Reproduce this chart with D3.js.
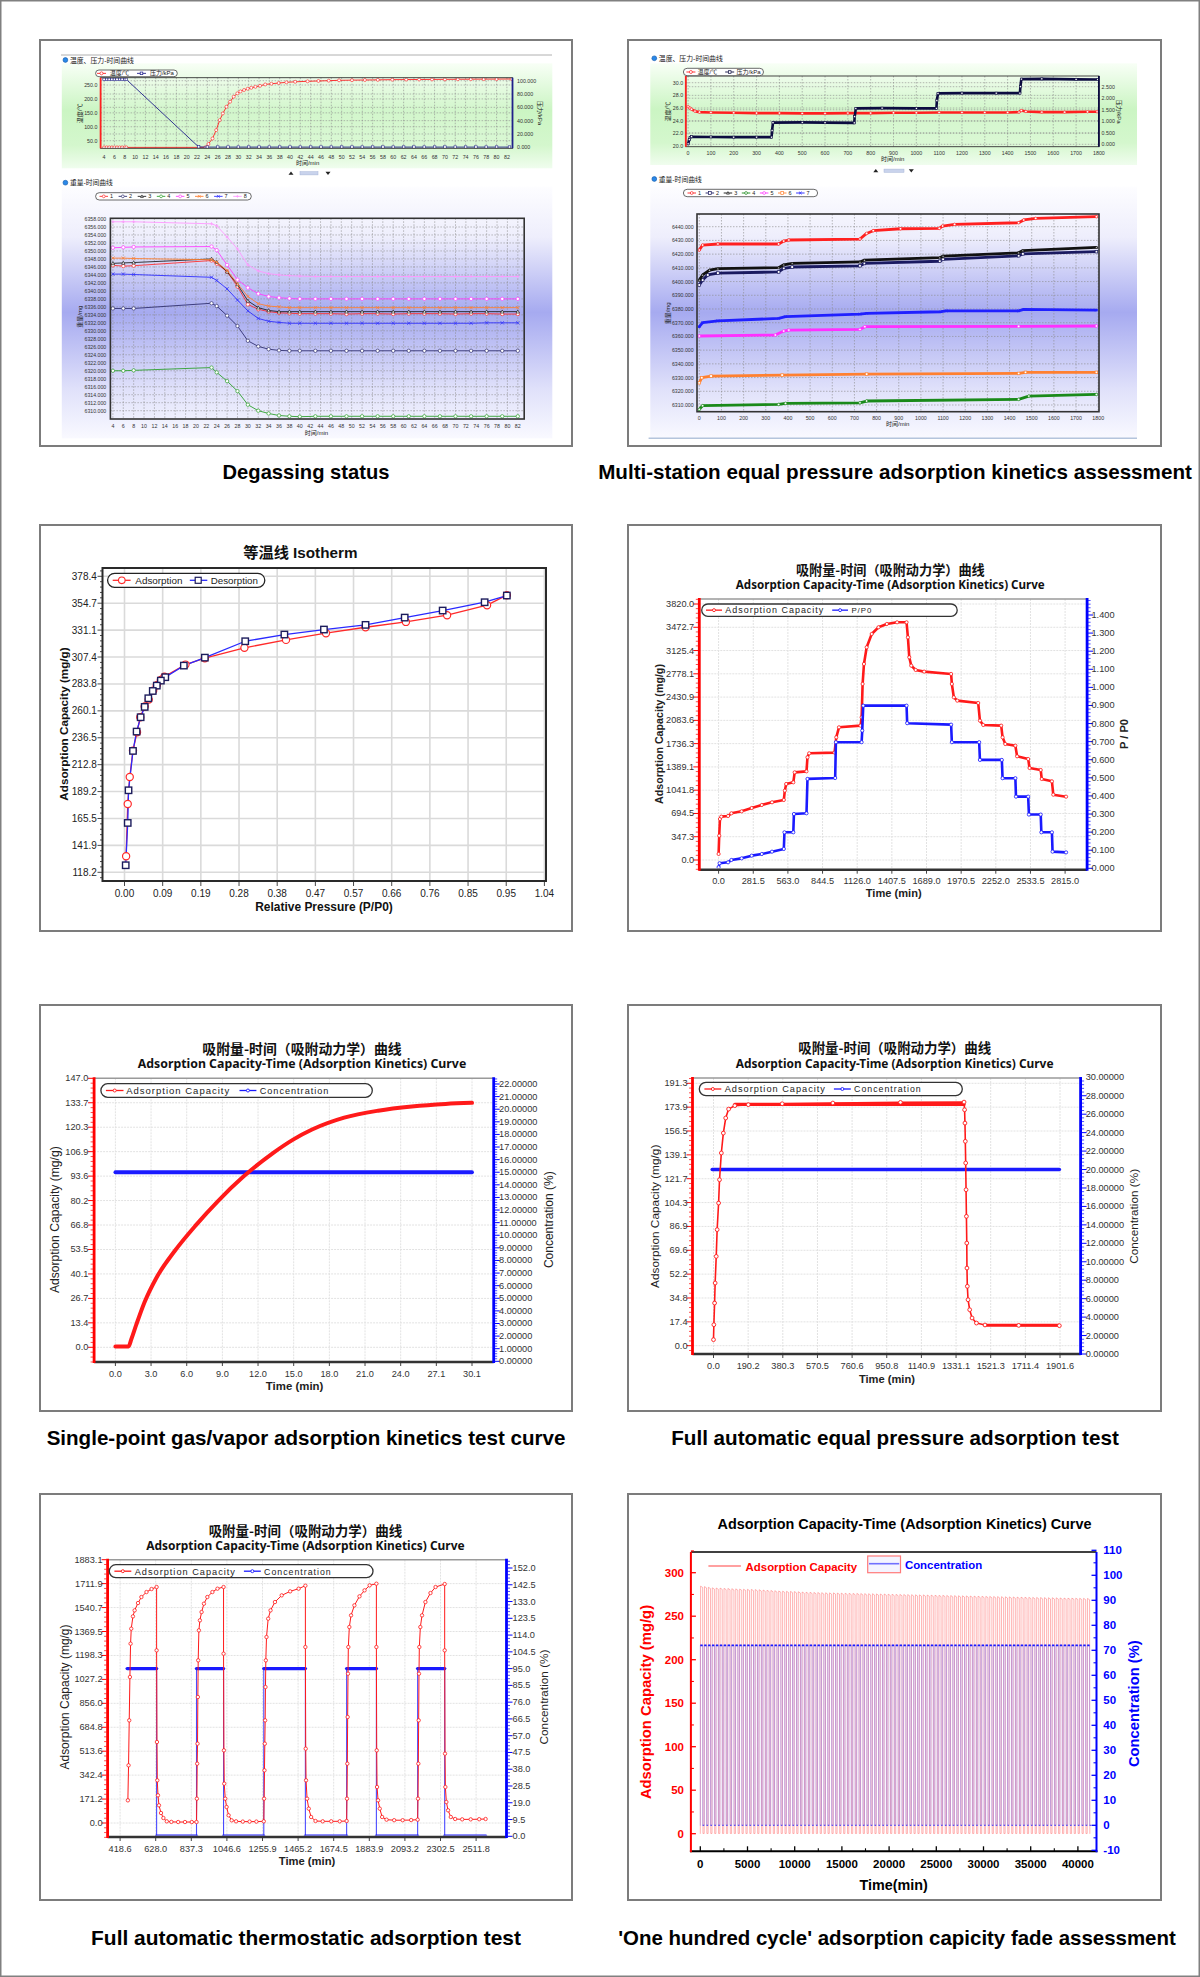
<!DOCTYPE html>
<html><head><meta charset="utf-8">
<script src="https://cdn.jsdelivr.net/npm/d3@7/dist/d3.min.js"></script>
<style>html,body{margin:0;padding:0;background:#fff;}svg{display:block;}</style>
</head><body>
<script>
// ======================= DATA =======================
const captions=["Degassing status","Multi-station equal pressure adsorption kinetics assessment","Single-point gas/vapor adsorption kinetics test curve","Full automatic equal pressure adsorption test","Full automatic thermostatic adsorption test","'One hundred cycle' adsorption capicity fade assessment"];

// ---- Panel 1: degassing ----
const degX=["4","6","8","10","12","14","16","18","20","22","24","26","28","30","32","34","36","38","40","42","44","46","48","50","52","54","56","58","60","62","64","66","68","70","72","74","76","78","80","82"];
const degTempTicks=["50.0","100.0","150.0","200.0","250.0"];
const degPresTicks=["0.000","20.000","40.000","60.000","80.000","100.000"];
const degWTicks=["6310.000","6312.000","6314.000","6316.000","6318.000","6320.000","6322.000","6324.000","6326.000","6328.000","6330.000","6332.000","6334.000","6336.000","6338.000","6340.000","6342.000","6344.000","6346.000","6348.000","6350.000","6352.000","6354.000","6356.000","6358.000"];
const degTempT=[4,4.5,5,5.5,6,6.5,7,7.5,8,8.3,23.6,24.2,25,25.7,26.4,27,27.7,28.4,29.1,29.8,30.4,31.1,31.8,32.5,33.3,34.2,35.2,36.4,37.8,39.3,41,43.4,45.5,47.5,49.5,52,54.5,57,59.8,62.5,65,67.5,70,72.5,75,77.5,80,82.9];
const degTempV=[26,26,26,26,26,26,26,26,26,26,26,38,58,88,124,148,172,190,208,220,227,232,236.5,240,243.5,247,252,254.5,257,259.6,261.5,263.2,264.5,265.5,266.8,267.5,268,268.5,269.2,269.5,269.8,270,270.3,270.6,270.9,271.1,271.3,271.6];
const degPresT=[4,4.5,5,5.5,6,6.5,7,7.5,8,8.3,22.3,24,26,28,30,32,34,36,38,40,42,44,46,48,50,52,54,56,58,60,62,64,66,68,70,72,74,76,78,80,82.5];
const degPresV=[102,102,102,102,102,102,102,102,102,102,0.6,0.3,0.3,0.3,0.3,0.3,0.3,0.3,0.3,0.3,0.3,0.3,0.3,0.3,0.3,0.3,0.3,0.3,0.3,0.3,0.3,0.3,0.3,0.3,0.3,0.3,0.3,0.3,0.3,0.3,0.3];
const degWT=[4,6,8,23,24,26,28,30,32,34,36,38,40,43,46,49,52,55,58,61,64,67,70,73,76,79,82];
const degW1=[6346.4,6346.2,6346.3,6347.6,6346.8,6344.8,6341.1,6336.6,6335.4,6334.8,6334.5,6334.4,6334.3,6334.3,6334.3,6334.2,6334.3,6334.3,6334.2,6334.3,6334.3,6334.3,6334.2,6334.3,6334.3,6334.2,6334.2];
const degW2=[6335.6,6335.6,6335.6,6336.9,6336.2,6333.8,6331.2,6327.5,6326.1,6325.4,6325.1,6325.0,6325.0,6325.0,6325.0,6325.0,6325.0,6325.0,6325.0,6325.0,6325.0,6325.0,6325.0,6325.0,6325.0,6325.0,6325.0];
const degW3=[6346.9,6347.0,6347.1,6348.0,6347.2,6344.8,6341.6,6337.5,6335.8,6335.1,6334.8,6334.8,6334.8,6334.8,6334.8,6334.8,6334.8,6334.8,6334.8,6334.8,6334.8,6334.8,6334.8,6334.8,6334.8,6334.8,6334.8];
const degW4=[6320.0,6320.0,6320.1,6320.8,6319.6,6317.4,6314.9,6311.5,6310.0,6309.3,6308.8,6308.6,6308.5,6308.6,6308.6,6308.6,6308.6,6308.6,6308.6,6308.6,6308.6,6308.6,6308.6,6308.6,6308.6,6308.6,6308.6];
const degW5=[6350.8,6350.9,6351.0,6351.1,6350.2,6346.5,6342.8,6340.8,6339.3,6338.6,6338.3,6338.1,6338.0,6338.0,6338.0,6338.0,6338.0,6338.0,6338.0,6338.0,6338.0,6338.0,6338.0,6338.0,6338.0,6338.0,6338.0];
const degW6=[6348.2,6348.2,6348.1,6347.8,6347.2,6345.1,6341.8,6338.6,6336.8,6336.2,6336.0,6335.8,6335.8,6335.8,6335.8,6335.8,6335.8,6335.8,6335.8,6335.8,6335.8,6335.8,6335.8,6335.8,6335.8,6335.8,6335.8];
const degW7=[6344.2,6344.2,6344.1,6343.4,6342.6,6340.5,6337.7,6335.0,6333.1,6332.4,6332.1,6331.9,6331.9,6331.9,6331.9,6331.9,6331.9,6331.9,6331.9,6331.9,6331.9,6331.9,6331.9,6331.9,6332.0,6332.0,6332.0];
const degW8=[6357.3,6357.3,6357.3,6356.8,6356.3,6353.5,6350.5,6346.5,6345.0,6344.3,6344.0,6343.8,6343.7,6343.6,6343.6,6343.6,6343.6,6343.6,6343.6,6343.6,6343.6,6343.6,6343.6,6343.6,6343.6,6343.6,6343.6];

// ---- Panel 2: multi-station ----
const msX=["0","100","200","300","400","500","600","700","800","900","1000","1100","1200","1300","1400","1500","1600","1700","1800"];
const msTempTicks=["20.0","22.0","24.0","26.0","28.0","30.0"];
const msPresTicks=["0.000","0.500","1.000","1.500","2.000","2.500"];
const msWTicks=["6310.000","6320.000","6330.000","6340.000","6350.000","6360.000","6370.000","6380.000","6390.000","6400.000","6410.000","6420.000","6430.000","6440.000"];
const msTemp=[[0,26.2],[8,26.0],[15,25.8],[30,25.5],[50,25.35],[100,25.3],[200,25.25],[300,25.2],[400,25.2],[500,25.15],[600,25.15],[700,25.2],[800,25.2],[900,25.25],[1000,25.25],[1100,25.3],[1200,25.3],[1300,25.3],[1400,25.3],[1450,25.35],[1460,25.6],[1480,25.45],[1550,25.35],[1650,25.35],[1750,25.4],[1792,25.4]];
const msPres=[[0,0.02],[5,0.2],[9,0.29],[15,0.33],[100,0.32],[200,0.31],[300,0.31],[366,0.31],[368,0.6],[372,0.94],[500,0.95],[600,0.94],[728,0.93],[730,1.2],[735,1.56],[850,1.57],[1000,1.56],[1088,1.56],[1090,1.9],[1095,2.21],[1200,2.22],[1350,2.22],[1454,2.22],[1456,2.5],[1460,2.83],[1550,2.84],[1700,2.82],[1795,2.81]];
const msW1=[[0,6423],[15,6426.6],[84,6427.4],[358,6427.4],[381,6429.5],[404,6430.3],[725,6431],[755,6435.1],[785,6437.1],[908,6438.5],[1083,6438.8],[1098,6440.5],[1152,6441.7],[1441,6442.9],[1464,6444.9],[1518,6446.1],[1792,6447.3]];
const msW2=[[0,6397.5],[15,6401.1],[38,6404.8],[84,6406.2],[358,6407],[381,6409.6],[419,6410.6],[725,6411.5],[745,6413.2],[1085,6414.8],[1100,6416.2],[1441,6418.8],[1460,6420.2],[1792,6421.8]];
const msW3=[[0,6401.1],[15,6404.8],[46,6408.4],[84,6409.4],[358,6410.1],[381,6412.2],[419,6413.3],[725,6414.3],[745,6415.6],[1085,6417.4],[1100,6418.6],[1441,6421],[1460,6422.6],[1792,6424.9]];
const msW4=[[0,6306.8],[15,6309.5],[358,6310.4],[389,6311.2],[725,6311.6],[755,6312.9],[1441,6314.1],[1487,6316.5],[1792,6317.7]];
const msW5=[[0,6360.3],[343,6361],[381,6363.9],[404,6364.6],[725,6365.1],[747,6367.1],[1441,6367.3],[1792,6367.6]];
const msW6=[[0,6326.2],[11,6329.9],[53,6331.1],[374,6331.8],[755,6332.5],[1441,6333],[1472,6333.8],[1792,6333.8]];
const msW7=[[0,6367.1],[15,6370],[84,6371.4],[358,6373.1],[389,6374.4],[725,6376.3],[755,6376.8],[1091,6378],[1114,6378.7],[1441,6378.7],[1464,6379.7],[1792,6379.2]];

// ---- Panel 3: isotherm ----
const isoX=["0.00","0.09","0.19","0.28","0.38","0.47","0.57","0.66","0.76","0.85","0.95","1.04"];
const isoY=["118.2","141.9","165.5","189.2","212.8","236.5","260.1","283.8","307.4","331.1","354.7","378.4"];
const isoAdsP=[0.004,0.008,0.013,0.021,0.031,0.039,0.050,0.060,0.071,0.080,0.090,0.099,0.151,0.199,0.297,0.400,0.499,0.597,0.697,0.799,0.898,0.947];
const isoAdsV=[132.3,178.3,202.0,225.2,241.3,254.5,263.9,270.0,277.9,282.6,287.3,290.2,300.8,306.4,315.5,322.5,328.4,333.6,338.3,344.2,353.0,361.8];
const isoDesP=[0.947,0.892,0.788,0.694,0.597,0.494,0.396,0.299,0.199,0.147,0.101,0.090,0.080,0.070,0.059,0.050,0.040,0.030,0.021,0.010,0.008,0.003];
const isoDesV=[361.5,355.6,348.3,342.1,335.7,331.6,327.2,321.3,306.9,299.9,289.7,286.7,282.3,277.6,271.2,263.6,254.5,241.9,224.9,190.3,161.6,124.4];

// ---- Panel 4: kinetics with P/P0 ----
const p4X=["0.0","281.5","563.0","844.5","1126.0","1407.5","1689.0","1970.5","2252.0","2533.5","2815.0"];
const p4L=["0.0","347.3","694.5","1041.8","1389.1","1736.3","2083.6","2430.9","2778.1","3125.4","3472.7","3820.0"];
const p4R=["0.000","0.100","0.200","0.300","0.400","0.500","0.600","0.700","0.800","0.900","1.000","1.100","1.200","1.300","1.400"];
const p4Ads=[[0,90],[5,363],[11,612],[22,647],[77,657],[104,697],[187,726],[269,776],[351,821],[434,861],[530,896],[538,1035],[549,1134],[607,1159],[618,1308],[714,1323],[722,1532],[736,1592],[942,1602],[956,1831],[978,1980],[1153,2005],[1162,2129],[1170,2627],[1181,2925],[1203,3174],[1244,3373],[1299,3473],[1367,3522],[1450,3547],[1527,3547],[1538,3323],[1549,3025],[1565,2900],[1601,2836],[1670,2811],[1889,2776],[1895,2627],[1911,2428],[1939,2378],[2109,2343],[2123,2080],[2150,2015],[2296,2005],[2307,1831],[2329,1731],[2411,1706],[2425,1547],[2515,1507],[2526,1373],[2617,1343],[2625,1209],[2708,1174],[2719,975],[2823,945]];
const p4PP0=[[0,0.006],[8,0.028],[77,0.033],[104,0.046],[187,0.055],[269,0.070],[351,0.079],[434,0.092],[530,0.107],[535,0.199],[607,0.199],[612,0.300],[714,0.304],[722,0.494],[947,0.499],[953,0.697],[1162,0.697],[1167,0.761],[1175,0.899],[1527,0.899],[1532,0.802],[1889,0.794],[1895,0.697],[2117,0.697],[2123,0.599],[2301,0.599],[2307,0.498],[2411,0.498],[2416,0.396],[2515,0.396],[2521,0.297],[2617,0.297],[2622,0.199],[2708,0.199],[2713,0.092],[2823,0.088]];

// ---- Panel 5: single point ----
const p5X=["0.0","3.0","6.0","9.0","12.0","15.0","18.0","21.0","24.0","27.1","30.1"];
const p5L=["0.0","13.4","26.7","40.1","53.5","66.8","80.2","93.6","106.9","120.3","133.7","147.0"];
const p5R=["0.00000","1.00000","2.00000","3.00000","4.00000","5.00000","6.00000","7.00000","8.00000","9.00000","10.00000","11.00000","12.00000","13.00000","14.00000","15.00000","16.00000","17.00000","18.00000","19.00000","20.00000","21.00000","22.00000"];
const p5Ads=[[0,0.5],[1.11,0.5],[1.35,4.5],[1.77,12.5],[2.45,24.5],[3.42,37.5],[4.99,52.5],[6.76,66.5],[8.70,80.2],[10.76,93.0],[13.27,106.0],[15.0,113.5],[16.6,119.0],[19.31,125.5],[22.17,129.3],[25.02,131.6],[27.87,133.0],[30.10,133.6]];
const p5Conc=[[0,15],[30.1,15]];

// ---- Panel 6: equal pressure ----
const p6X=["0.0","190.2","380.3","570.5","760.6","950.8","1140.9","1331.1","1521.3","1711.4","1901.6"];
const p6L=["0.0","17.4","34.8","52.2","69.6","86.9","104.3","121.7","139.1","156.5","173.9","191.3"];
const p6R=["0.00000","2.00000","4.00000","6.00000","8.00000","10.00000","12.00000","14.00000","16.00000","18.00000","20.00000","22.00000","24.00000","26.00000","28.00000","30.00000"];
const p6Ads=[[0,4.4],[2,15.3],[6,31.1],[9,45.7],[15,65.1],[20,84.6],[28,104],[33,121],[43,140.5],[54,155],[67,166],[83,172.5],[117,175],[191,175.7],[377,176.4],[655,176.9],[1026,177.4],[1375,177.6],[1378,172],[1380,162.3],[1382,149],[1384,133.2],[1386,113.7],[1388,94.3],[1390,74.8],[1391,56.6],[1393,43.3],[1397,33.5],[1406,26.2],[1419,20.2],[1443,16.5],[1490,15.1],[1675,14.8],[1898,14.6]];
const p6Conc=[[-7,20],[1898,20]];

// ---- Panel 7: thermostatic ----
const p7X=["418.6","628.0","837.3","1046.6","1255.9","1465.2","1674.5","1883.9","2093.2","2302.5","2511.8"];
const p7L=["0.0","171.2","342.4","513.6","684.8","856.0","1027.2","1198.3","1369.5","1540.7","1711.9","1883.1"];
const p7R=["0.0","9.5","19.0","28.5","38.0","47.5","57.0","66.5","76.0","85.5","95.0","104.5","114.0","123.5","133.0","142.5","152.0"];
const p7Ads=[[464.3,162.1],[468.3,412.4],[472.3,734.1],[476.3,1044],[480.2,1282.4],[484.2,1389.6],[494.1,1477.8],[504.1,1520.7],[523.9,1573.2],[543.8,1616.1],[573.7,1651.8],[603.5,1673.3],[633.3,1687.6],[633.3,1234.7],[635.3,579.2],[637.3,305.1],[641.3,197.8],[647.2,126.3],[659.1,71.5],[673.1,35.8],[693,11.9],[720,8],[760,7],[800,7],[840,7],[867.9,7.2],
[869.9,174],[871.9,424.3],[873.8,567.3],[875.8,901],[877.8,1163.2],[881.8,1377.7],[887.8,1449.2],[897.7,1508.8],[911.6,1568.4],[931.5,1616.1],[961.3,1651.8],[991.1,1675.7],[1026.9,1687.6],[1026.9,1210.9],[1028.9,519.6],[1030.9,281.3],[1036.8,174],[1044.8,114.4],[1056.7,54.8],[1074.6,19.1],[1100.5,11.9],[1140,10],[1180,10],[1220,10],[1263.5,11.9],
[1265.5,174],[1267.5,376.6],[1269.5,567.3],[1271.5,734.1],[1273.4,972.5],[1275.4,1163.2],[1279.4,1330],[1289.3,1461.2],[1303.2,1520.7],[1329.1,1580.3],[1368.8,1628],[1418.5,1656.6],[1468.2,1675.7],[1508,1697.1],[1508,1258.5],[1510,531.5],[1512,305.1],[1517.9,174],[1527.9,102.5],[1541.8,42.9],[1567.6,14.3],[1610,12],[1660,12],[1710,12],[1750.6,14.3],
[1752.6,174],[1754.6,424.3],[1756.6,758],[1758.6,1067.9],[1760.6,1258.5],[1766.5,1401.6],[1776.5,1485],[1796.3,1556.5],[1826.1,1620.9],[1855.9,1663.8],[1885.8,1699.5],[1925.5,1711.4],[1925.5,1258.5],[1927.5,519.6],[1929.5,257.4],[1935.4,162.1],[1945.4,102.5],[1959.3,42.9],[1985.2,23.8],[2030,20],[2080,20],[2130,21],[2168.1,23.8],
[2170.1,174],[2172.1,424.3],[2174.1,734.1],[2176,1067.9],[2178,1258.5],[2184,1401.6],[2193.9,1485],[2213.8,1580.3],[2243.6,1644.7],[2273.4,1687.6],[2327.1,1709],[2327.1,1234.7],[2329.1,495.8],[2331.1,257.4],[2337,150.2],[2347,90.6],[2362.9,42.9],[2388.7,28.6],[2430,26],[2480,26],[2530,27],[2567.6,28.6]];
const p7Conc=[[460.3,95],[633.3,95],[633.3,0],[867.9,0],[867.9,95],[1026.9,95],[1026.9,0],[1263.5,0],[1263.5,95],[1508,95],[1508,0],[1750.6,0],[1750.6,95],[1925.5,95],[1925.5,0],[2168.1,0],[2168.1,95],[2327.1,95],[2327.1,0],[2567.6,0]];

// ---- Panel 8: one hundred cycles ----
const p8X=["0","5000","10000","15000","20000","25000","30000","35000","40000"];
const p8L=["0","50","100","150","200","250","300"];
const p8R=["-10","0","10","20","30","40","50","60","70","80","90","100","110"];
const p8Start=[0,414,828,1242,1656,2070,2484,2898,3312,3726,4140,4554,4968,5382,5796,6210,6624,7038,7452,7866,8280,8694,9108,9522,9936,10350,10764,11178,11592,12006,12420,12834,13248,13662,14076,14490,14904,15318,15732,16146,16560,16974,17388,17802,18216,18630,19044,19458,19872,20286,20700,21114,21528,21942,22356,22770,23184,23598,24012,24426,24840,25254,25668,26082,26496,26910,27324,27738,28152,28566,28980,29394,29808,30222,30636,31050,31464,31878,32292,32706,33120,33534,33948,34362,34776,35190,35604,36018,36432,36846,37260,37674,38088,38502,38916,39330,39744,40158,40572,40986];
const p8Peak=[284.5,284.0,283.2,282.6,282.4,282.3,282.0,281.9,281.6,281.4,281.2,281.0,280.9,280.8,280.6,280.4,280.1,279.8,279.6,279.3,279.0,278.8,278.6,278.5,278.3,278.1,277.8,277.6,277.5,277.3,277.2,277.0,276.9,276.8,276.8,276.6,276.5,276.4,276.3,276.2,276.2,276.0,275.9,275.8,275.8,275.6,275.5,275.5,275.3,275.2,275.1,275.0,274.9,274.8,274.7,274.6,274.5,274.5,274.3,274.2,274.1,274.0,274.0,273.8,273.7,273.6,273.5,273.4,273.3,273.2,273.1,273.0,272.9,272.8,272.7,272.6,272.5,272.4,272.3,272.2,272.1,272.0,271.9,271.8,271.7,271.6,271.5,271.4,271.3,271.2,271.2,271.1,271.0,270.9,270.8,270.8,270.7,270.6,270.5,270.4];
const p8Low=0.3;       // adsorption capacity between cycles (mg/g)
const p8Conc=72;       // concentration plateau (%)
const p8Phase=[0,30,250,280]; // minutes after cycle start: rise start, rise end, desorb start, desorb end

// ======================= DRAWING =======================
const svg=d3.select("body").append("svg").attr("width",1200).attr("height",1977)
  .attr("font-family","'Liberation Sans',Arial,'Noto Sans CJK SC',sans-serif");
const defs=svg.append("defs");
function grad(id,stops){const lg=defs.append("linearGradient").attr("id",id).attr("x1",0).attr("y1",0).attr("x2",0).attr("y2",1);stops.forEach(s=>lg.append("stop").attr("offset",s[0]).attr("stop-color",s[1]));}
grad("gGreen",[[0,"#f8fff6"],[0.45,"#cbf5c3"],[0.78,"#d4f7cd"],[1,"#f0fdee"]]);
grad("gBlue",[[0,"#fdfdff"],[0.2,"#eeeefc"],[0.5,"#a6aaf0"],[0.8,"#dfe0fa"],[1,"#f9f9ff"]]);
let clipN=0;
function clip(g,x0,y0,x1,y1){const id="cl"+(clipN++);defs.append("clipPath").attr("id",id).append("rect").attr("x",x0).attr("y",y0).attr("width",x1-x0).attr("height",y1-y0);return g.append("g").attr("clip-path",`url(#${id})`);}
function T(g,x,y,s,o){o=o||{};const t=g.append("text").attr("x",x).attr("y",y).text(s).attr("font-size",o.fs||10).attr("fill",o.fill||"#000").attr("text-anchor",o.a||"middle").attr("dominant-baseline","central");
 if(o.fw)t.attr("font-weight",o.fw);if(o.ls!=null)t.attr("letter-spacing",o.ls);if(o.ff)t.attr("font-family",o.ff);if(o.rot)t.attr("transform",`rotate(${o.rot},${x},${y})`);
 if(o.w){const Ln=t.node().getComputedTextLength();if(Ln>0)t.attr("font-size",((o.fs||10)*o.w/Ln).toFixed(2));}return t;}
function L(g,x1,y1,x2,y2,st,sw,da){const l=g.append("line").attr("x1",x1).attr("y1",y1).attr("x2",x2).attr("y2",y2).attr("stroke",st).attr("stroke-width",sw);if(da)l.attr("stroke-dasharray",da);return l;}
function tpos(labels,sc){const a=sc(+labels[0]),b=sc(+labels[labels.length-1]);return labels.map((_,i)=>a+(b-a)*i/(labels.length-1));}
function path(g,pts,x,y,color,sw,op,curve){const ln=d3.line().x(d=>x(d[0])).y(d=>y(d[1]));if(curve)ln.curve(curve);return g.append("path").attr("d",ln(pts)).attr("fill","none").attr("stroke",color).attr("stroke-width",sw).attr("stroke-linejoin","round").attr("stroke-linecap","round").attr("stroke-opacity",op==null?1:op);}
function mark(g,cx,cy,shape,color,r,sw,fill){
 if(shape==="c")return g.append("circle").attr("cx",cx).attr("cy",cy).attr("r",r).attr("fill",fill||"#fff").attr("stroke",color).attr("stroke-width",sw);
 if(shape==="s")return g.append("rect").attr("x",cx-r).attr("y",cy-r).attr("width",2*r).attr("height",2*r).attr("fill",fill||"#fff").attr("stroke",color).attr("stroke-width",sw);
 if(shape==="t")return g.append("path").attr("d",`M${cx},${cy-r}L${cx+r},${cy+r*0.8}L${cx-r},${cy+r*0.8}Z`).attr("fill",fill||"#fff").attr("stroke",color).attr("stroke-width",sw);
 if(shape==="x")return g.append("path").attr("d",`M${cx-r},${cy-r}L${cx+r},${cy+r}M${cx-r},${cy+r}L${cx+r},${cy-r}`).attr("fill","none").attr("stroke",color).attr("stroke-width",sw);
 return g.append("path").attr("d",`M${cx-r},${cy}L${cx+r},${cy}M${cx},${cy-r}L${cx},${cy+r}`).attr("fill","none").attr("stroke",color).attr("stroke-width",sw);}
function marks(g,pts,x,y,shape,color,r,sw,fill){pts.forEach(d=>mark(g,x(d[0]),y(d[1]),shape,color,r,sw,fill));}
const zip=(a,b)=>a.map((v,i)=>[v,b[i]]);

// ---- page border, panel frames, captions ----
svg.append("rect").attr("x",0.75).attr("y",0.75).attr("width",1198.5).attr("height",1975.5).attr("fill","none").attr("stroke","#808080").attr("stroke-width",1.5);
const frames=[[40,40,572,446],[628,40,1161,446],[40,525,572,931],[628,525,1161,931],[40,1005,572,1411],[628,1005,1161,1411],[40,1494,572,1900],[628,1494,1161,1900]];
frames.forEach(f=>svg.append("rect").attr("x",f[0]).attr("y",f[1]).attr("width",f[2]-f[0]).attr("height",f[3]-f[1]).attr("fill","#fff").attr("stroke","#7c7c7c").attr("stroke-width",2));
const capPos=[[306,471.7,167],[895,471.7,594],[306,1437,519],[895,1437,448],[306,1937,430],[897,1937,558]];
captions.forEach((s,i)=>T(svg,capPos[i][0],capPos[i][1],s,{fs:18,fw:"bold",w:capPos[i][2],fill:"#000"}));

// ======================= Panels 1 & 2 (software screenshots) =======================
function legacy(c){
 const g=svg.append("g");
 if(c.sep)L(g,c.sep[0],c.sep[1],c.sep[2],c.sep[1],"#b0b0b0",1);
 g.append("rect").attr("x",c.gbg[0]).attr("y",c.gbg[1]).attr("width",c.gbg[2]-c.gbg[0]).attr("height",c.gbg[3]-c.gbg[1]).attr("fill","url(#gGreen)");
 g.append("rect").attr("x",c.bbg[0]).attr("y",c.bbg[1]).attr("width",c.bbg[2]-c.bbg[0]).attr("height",c.bbg[3]-c.bbg[1]).attr("fill","url(#gBlue)");
 if(c.bl)L(g,c.bl[0],c.bl[1],c.bl[2],c.bl[1],"#b4c4dc",1.5);
 c.sec.forEach((p,i)=>{g.append("circle").attr("cx",p[0]).attr("cy",p[1]).attr("r",2.4).attr("fill","#2a88e8").attr("stroke","#0d55a8").attr("stroke-width",0.6);
   T(g,p[0]+4.5,p[1],i?"重量-时间曲线":"温度、压力-时间曲线",{fs:7,a:"start",fill:"#1a1a1a",w:p[2]});});
 const nv=c.nav;
 g.append("path").attr("d",`M${nv[0]-2.5},${nv[3]+1.5}L${nv[0]+2.5},${nv[3]+1.5}L${nv[0]},${nv[3]-1.8}Z`).attr("fill","#222");
 g.append("rect").attr("x",nv[1]).attr("y",nv[3]-1.6).attr("width",nv[2]-nv[1]).attr("height",3.2).attr("fill","#c9d3ec").attr("stroke","#a6b4d8").attr("stroke-width",0.5);
 g.append("path").attr("d",`M${nv[4]-2.5},${nv[3]-1.5}L${nv[4]+2.5},${nv[3]-1.5}L${nv[4]},${nv[3]+1.8}Z`).attr("fill","#222");
 // ---- top chart ----
 const t=c.top;
 const tx=d3.scaleLinear().domain(t.xd).range(t.xr),tl=d3.scaleLinear().domain(t.ld).range(t.lr),tr=d3.scaleLinear().domain(t.rd).range(t.rr);
 const [A0,B0,A1,B1]=t.f;
 g.append("rect").attr("x",A0).attr("y",B0).attr("width",A1-A0).attr("height",B1-B0).attr("fill","#fff").attr("fill-opacity",0.15);
 const txp=tpos(t.xl,tx),tlp=tpos(t.ll,tl),trp=tpos(t.rl,tr);
 txp.forEach(p=>L(g,p,B0,p,B1,"#8c8c8c",0.6,"1.5,1.5"));
 tlp.concat(trp).forEach(p=>{if(p>B0+1&&p<B1-1)L(g,A0,p,A1,p,"#8c8c8c",0.6,"1.5,1.5");});
 const tg=clip(g,A0,B0,A1,B1);
 g.append("rect").attr("x",A0).attr("y",B0).attr("width",A1-A0).attr("height",B1-B0).attr("fill","none").attr("stroke","#333").attr("stroke-width",0.9);
 L(g,A0,B0,A0,B1,"#ff2020",1.8);L(g,A1,B0,A1,B1,t.pc,1.8);
 t.ll.forEach((s,i)=>T(g,t.ltx,tlp[i],s,{fs:5.3,a:"end",fill:"#333"}));
 t.rl.forEach((s,i)=>T(g,t.rtx,trp[i],s,{fs:5.3,a:"start",fill:"#333"}));
 t.xl.forEach((s,i)=>T(g,txp[i],t.xty,s,{fs:5.3,fill:"#333"}));
 T(g,t.xlab[0],t.xlab[1],"时间/min",{fs:6,fill:"#222"});
 T(g,t.llab[0],t.llab[1],"温度/℃",{fs:6,fill:"#222",rot:-90});
 T(g,t.rlab[0],t.rlab[1],"压力/kPa",{fs:6,fill:"#222",rot:90});
 const lg=t.lg;
 g.append("rect").attr("x",lg[0]).attr("y",lg[1]).attr("width",lg[2]-lg[0]).attr("height",lg[3]-lg[1]).attr("rx",(lg[3]-lg[1])/2).attr("fill","#fff").attr("stroke","#444").attr("stroke-width",0.8);
 const lym=(lg[1]+lg[3])/2;
 L(g,lg[4],lym,lg[4]+9,lym,"#ff2020",0.9);mark(g,lg[4]+4.5,lym,"c","#ff2020",1.5,0.7);T(g,lg[5],lym,"温度/℃",{fs:6,a:"start",fill:"#222"});
 L(g,lg[6],lym,lg[6]+9,lym,t.pc,0.9);mark(g,lg[6]+4.5,lym,"s",t.pc,1.3,0.7);T(g,lg[7],lym,"压力/kPa",{fs:6,a:"start",fill:"#222"});
 path(tg,t.temp,tx,tl,"#ff2020",t.sw);
 marks(tg,t.temp,tx,tl,"c","#ff2020",t.mr,0.6);
 path(tg,t.pres,tx,tr,t.pc,t.sw);
 marks(tg,t.pres,tx,tr,"s",t.pc,t.mr*0.85,0.6);
 // ---- weight chart ----
 const w=c.w;
 const wx=d3.scaleLinear().domain(w.xd).range(w.xr),wy=d3.scaleLinear().domain(w.yd).range(w.yr);
 const [C0,D0,C1,D1]=w.f;
 const wxp=tpos(w.xl,wx),wyp=tpos(w.yl,wy);
 wxp.forEach(p=>L(g,p,D0,p,D1,"#8a8a8a",0.6,"1.5,1.5"));
 wyp.forEach(p=>{if(p>D0+1&&p<D1-1)L(g,C0,p,C1,p,"#8a8a8a",0.6,"1.5,1.5");});
 const wg=clip(g,C0,D0,C1,D1);
 g.append("rect").attr("x",C0).attr("y",D0).attr("width",C1-C0).attr("height",D1-D0).attr("fill","none").attr("stroke","#333").attr("stroke-width",1.6);
 w.yl.forEach((s,i)=>T(g,w.ytx,wyp[i],s,{fs:5.2,a:"end",fill:"#333"}));
 w.xl.forEach((s,i)=>T(g,wxp[i],w.xty,s,{fs:5.3,fill:"#333"}));
 T(g,w.xlab[0],w.xlab[1],"时间/min",{fs:6,fill:"#222"});
 T(g,w.ylab[0],w.ylab[1],"重量/mg",{fs:6,fill:"#222",rot:-90});
 const wl=w.lg;
 g.append("rect").attr("x",wl[0]).attr("y",wl[1]).attr("width",wl[2]-wl[0]).attr("height",wl[3]-wl[1]).attr("rx",(wl[3]-wl[1])/2).attr("fill","#fff").attr("stroke","#444").attr("stroke-width",0.8);
 const wym=(wl[1]+wl[3])/2;
 w.series.forEach((s,i)=>{const x0=wl[4]+i*wl[5];L(g,x0,wym,x0+8.5,wym,s.c,0.9);mark(g,x0+4.25,wym,s.m,s.c,1.4,0.7);T(g,x0+10.5,wym,String(i+1),{fs:5.5,a:"start",fill:"#222"});});
 w.series.forEach(s=>{path(wg,s.d,wx,wy,s.c,w.sw);marks(wg,s.d,wx,wy,s.m,s.c,w.mr,0.7);});
}
legacy({sep:[61,55,552],gbg:[61.8,63.3,552.3,168.3],bbg:[61.8,186.7,552.3,438.3],
 sec:[[65.4,60,64],[65.4,182.7,43]],nav:[291,300,318,173.3,328],
 top:{f:[100.6,77.7,512.5,148.3],xd:[4,82],xr:[104.1,506.9],ld:[50,250],lr:[140.7,85],rd:[0,100],rr:[147.3,80.7],pc:"#20208a",
  xl:degX,ll:degTempTicks,rl:degPresTicks,ltx:97.4,rtx:517,xty:156.7,xlab:[307.6,162.7],llab:[80.5,113.3],rlab:[540,113],
  lg:[95.6,70,177.3,76.7,97,109.7,137,149.9],temp:zip(degTempT,degTempV),pres:zip(degPresT,degPresV),sw:0.9,mr:1.5},
 w:{f:[110.4,218.3,524.2,419],xd:[4,82],xr:[112.9,517.8],yd:[6310,6358],yr:[410.7,219],xl:degX,yl:degWTicks,ytx:106.2,xty:426,
  xlab:[316.4,432.7],ylab:[80.5,316.7],lg:[95.6,192.7,251.3,200,99.5,19.1],sw:0.9,mr:1.7,
  series:[{c:"#ff3030",m:"c",d:zip(degWT,degW1)},{c:"#303070",m:"c",d:zip(degWT,degW2)},{c:"#222222",m:"t",d:zip(degWT,degW3)},{c:"#2ea02e",m:"c",d:zip(degWT,degW4)},
   {c:"#ff40ff",m:"c",d:zip(degWT,degW5)},{c:"#ff8030",m:"x",d:zip(degWT,degW6)},{c:"#3030ff",m:"x",d:zip(degWT,degW7)},{c:"#ff99ff",m:"p",d:zip(degWT,degW8)}]}});
legacy({gbg:[650.3,63.3,1137,165],bbg:[650.3,186.7,1137,438.3],bl:[648.6,438.3,1137],
 sec:[[654.3,58.3,64],[654.3,179,43]],nav:[875.8,884,904,170.7,911.3],
 top:{f:[685.8,76,1098.9,146.7],xd:[0,1800],xr:[688.1,1098.9],ld:[20,30],lr:[146,82.7],rd:[0,2.5],rr:[144.3,86.7],pc:"#0c0c40",
  xl:msX,ll:msTempTicks,rl:msPresTicks,ltx:683.1,rtx:1101.6,xty:153.3,xlab:[892.7,159],llab:[667.9,111.7],rlab:[1118.5,111.7],
  lg:[683.4,68.3,763.5,75.7,686.4,697.6,725.2,736.5],temp:msTemp,pres:msPres,sw:2.6,mr:1.2},
 w:{f:[697,214,1099,411.7],xd:[0,1800],xr:[699.3,1098.2],yd:[6310,6440],yr:[405,226.7],xl:msX,yl:msWTicks,ytx:693.6,xty:417.7,
  xlab:[897.7,424.3],ylab:[667.9,313.3],lg:[683.4,189.3,817.6,196.7,687.5,18.1],sw:2.8,mr:1.3,
  series:[{c:"#ff2020",m:"c",d:msW1},{c:"#1a1a60",m:"s",d:msW2},{c:"#111111",m:"t",d:msW3},{c:"#1a8a1a",m:"c",d:msW4},
   {c:"#ff30ff",m:"c",d:msW5},{c:"#ff8030",m:"s",d:msW6},{c:"#2020ff",m:"x",d:msW7}]}});

// ======================= Panel 3: isotherm =======================
(function(){
 const g=svg.append("g");
 const x=d3.scaleLinear().domain([0,1.04]).range([124.5,544.4]);
 const y=d3.scaleLinear().domain([118.2,378.4]).range([872.3,576.3]);
 const X0=102.5,Y0=568,X1=546,Y1=881;
 const xp=tpos(isoX,x),yp=tpos(isoY,y);
 xp.forEach(p=>L(g,p,Y0,p,Y1,"#dadada",1.6));
 yp.forEach(p=>L(g,X0,p,X1,p,"#dadada",1.6));
 const s=(yp[1]-yp[0])/5;
 for(let k=-5;k<=60;k++){const p=yp[0]+k*s;if(p<Y0||p>Y1)continue;L(g,X0,p,X0-(k%5===0&&k>=0?5:2.5),p,"#333",0.9);}
 xp.forEach(p=>L(g,p,Y1,p,Y1+5,"#333",0.9));
 isoY.forEach((v,i)=>T(g,96.8,yp[i],v,{fs:10,a:"end",fill:"#222"}));
 isoX.forEach((v,i)=>T(g,xp[i],893,v,{fs:10,fill:"#222"}));
 const cg=clip(g,X0,Y0,X1,Y1);
 g.append("rect").attr("x",X0).attr("y",Y0).attr("width",X1-X0).attr("height",Y1-Y0).attr("fill","none").attr("stroke","#2a2a2a").attr("stroke-width",2);
 T(g,300.3,552.3,"等温线 Isotherm",{fs:15,fw:"bold",w:114.3,fill:"#111"});
 T(g,63,724,"Adsorption Capacity (mg/g)",{fs:13,fw:"bold",rot:-90,w:153.3,fill:"#111"});
 T(g,324,907.3,"Relative Pressure (P/P0)",{fs:13,fw:"bold",w:137.6,fill:"#111"});
 const ads=zip(isoAdsP,isoAdsV),des=zip(isoDesP,isoDesV);
 path(cg,ads,x,y,"#ff2a2a",1.3);
 path(cg,des,x,y,"#2a2aff",1.3);
 marks(cg,ads,x,y,"c","#ff2a2a",3.6,1.2);
 marks(cg,des,x,y,"s","#1c1c5c",3.2,1.4);
 g.append("rect").attr("x",107.6).attr("y",573.3).attr("width",157.2).attr("height",14).attr("rx",7).attr("fill","#fff").attr("stroke","#222").attr("stroke-width",1.3);
 L(g,112.7,580.3,130.6,580.3,"#ff2a2a",1.3);mark(g,121.8,580.3,"c","#ff2a2a",3.3,1.1);
 T(g,135.3,580.3,"Adsorption",{fs:11,a:"start",w:47.3,fill:"#222"});
 L(g,189.8,580.3,207.3,580.3,"#2a2aff",1.3);mark(g,198.2,580.3,"s","#1c1c5c",3,1.2);
 T(g,210.7,580.3,"Desorption",{fs:11,a:"start",w:47.3,fill:"#222"});
})();

// ======================= Panels 4-7: kinetics =======================
function kin(c){
 const g=svg.append("g");
 const x=d3.scaleLinear().domain(c.xd).range(c.xr),yl=d3.scaleLinear().domain(c.ld).range(c.lr),yr=d3.scaleLinear().domain(c.rd).range(c.rr);
 const [X0,Y0,X1,Y1]=c.f;
 const xp=tpos(c.xt,x),lp=tpos(c.lt,yl),rp=tpos(c.rt,yr);
 xp.forEach(p=>L(g,p,Y0,p,Y1,"#e2e2e2",1,"2,1"));
 lp.forEach(p=>{if(p>Y0+2&&p<Y1-2)L(g,X0,p,X1,p,"#e2e2e2",1,"2,1");});
 function minor(pos,xa,dir,col){const s=(pos[1]-pos[0])/5,n=5*(pos.length-1);for(let k=-15;k<=n+15;k++){const p=pos[0]+k*s;if(p<Y0-0.5||p>Y1+0.5)continue;const major=(k%5===0&&k>=0&&k<=n);L(g,xa,p,xa+dir*(major?5:2.5),p,col,major?1:0.7);}}
 minor(lp,X0-1,-1,"#ff0000");minor(rp,X1+1,1,"#0000ff");
 xp.forEach(p=>L(g,p,Y1,p,Y1+4,"#444",1));
 c.lt.forEach((s,i)=>T(g,c.ltx,lp[i],s,{fs:9.2,a:"end",fill:"#333"}));
 c.rt.forEach((s,i)=>T(g,c.rtx,rp[i],s,{fs:9.2,a:"start",fill:"#333"}));
 c.xt.forEach((s,i)=>T(g,xp[i],c.xty,s,{fs:9.2,fill:"#333"}));
 const cg=clip(g,X0+1.5,Y0+1,X1-1.5,Y1-1.5);
 L(g,X0,Y0,X1,Y0,"#9a9a9a",1.5);
 L(g,X0,Y1,X1,Y1,"#333",2.5);
 L(g,X0,Y0-1,X0,Y1+1,"#ff0000",2.8);
 L(g,X1,Y0-1,X1,Y1+1,"#0000ff",2.8);
 T(g,c.tx,c.t1[0],"吸附量-时间（吸附动力学）曲线",{fs:13,fw:"bold",ff:"'Noto Sans CJK SC',sans-serif",w:c.t1[1],fill:"#111"});
 T(g,c.tx,c.t2[0],"Adsorption Capacity-Time (Adsorption Kinetics) Curve",{fs:12,fw:"bold",ff:"'Noto Sans','Liberation Sans',sans-serif",w:c.t2[1],fill:"#111"});
 T(g,c.ylab.x,c.ylab.y,"Adsorption Capacity (mg/g)",{fs:12,fw:c.ylab.fw||"normal",rot:-90,w:c.ylab.w,fill:"#222"});
 T(g,c.yrlab.x,c.yrlab.y,c.yrlab.s,{fs:12,fw:c.yrlab.fw||"normal",rot:-90,w:c.yrlab.w,fill:"#222"});
 T(g,c.xlab.x,c.xlab.y,"Time (min)",{fs:12,fw:"bold",w:c.xlab.w,fill:"#222"});
 const lg=c.lg,[a,b,cc,d]=lg.f,ym=(b+d)/2;
 g.append("rect").attr("x",a).attr("y",b).attr("width",cc-a).attr("height",d-b).attr("rx",(d-b)/2).attr("fill","#fff").attr("stroke","#333").attr("stroke-width",1.3);
 lg.items.forEach(it=>{L(g,it.x,ym,it.x2,ym,it.c,1.3);mark(g,(it.x+it.x2)/2,ym,"c",it.c,1.5,0.9);T(g,it.tx,ym+0.3,it.s,{fs:9.5,a:"start",ls:1,w:it.w,fill:"#222"});});
 return {g:cg,x,yl,yr};
}
function flatThick(g,pts,x,y,color,sw){for(let i=1;i<pts.length;i++){if(pts[i][1]===pts[i-1][1])L(g,x(pts[i-1][0]),y(pts[i][1]),x(pts[i][0]),y(pts[i][1]),color,sw).attr("stroke-linecap","round");}}
const RED="#ff1a1a",BLUE="#1a1aff";
// Panel 4
(function(){
 const k=kin({f:[699.3,599,1087.1,869.7],xd:[0,2815],xr:[718.6,1065.1],ld:[0,3820],lr:[860,604],rd:[0,1.4],rr:[868.3,615],
  xt:p4X,lt:p4L,rt:p4R,ltx:694.2,rtx:1091.5,xty:880.7,tx:890.3,t1:[569.4,189],t2:[584.3,309.3],
  ylab:{x:658.7,y:734,w:140,fw:"bold"},yrlab:{x:1123.6,y:734,w:30,fw:"bold",s:"P / P0"},xlab:{x:893.7,y:893,w:55.8},
  lg:{f:[701.7,604,957.2,616.3],items:[{x:706,x2:722,tx:725.3,w:98,c:RED,s:"Adsorption  Capacity"},{x:832.2,x2:848,tx:851.4,w:20.3,c:BLUE,s:"P/P0"}]}});
 path(k.g,p4Ads,k.x,k.yl,RED,2.6);
 marks(k.g,p4Ads,k.x,k.yl,"c",RED,1.6,0.8);
 path(k.g,p4PP0,k.x,k.yr,BLUE,2.6);
 marks(k.g,p4PP0,k.x,k.yr,"c",BLUE,1.6,0.8);
})();
// Panel 5
(function(){
 const k=kin({f:[94.1,1078.3,493.7,1362],xd:[0,30.1],xr:[115.4,472],ld:[0,147],lr:[1347.3,1078.3],rd:[0,22],rr:[1361.3,1084],
  xt:p5X,lt:p5L,rt:p5R,ltx:88.3,rtx:499.1,xty:1373.7,tx:302,t1:[1047.6,199.5],t2:[1063.2,328.6],
  ylab:{x:55.2,y:1219.7,w:146.7},yrlab:{x:548.8,y:1219.7,w:96.7,s:"Concentration (%)"},xlab:{x:294.6,y:1386.3,w:57.5},
  lg:{f:[100.9,1083.7,372.3,1097.3],items:[{x:105.9,x2:123.5,tx:126.2,w:104,c:RED,s:"Adsorption  Capacity"},{x:239.5,x2:256.4,tx:259.7,w:69.3,c:BLUE,s:"Concentration"}]}});
 path(k.g,p5Conc,k.x,k.yr,BLUE,3.8);
 path(k.g,p5Ads,k.x,k.yl,RED,4,1,d3.curveMonotoneX);
})();
// Panel 6
(function(){
 const k=kin({f:[692.5,1078,1080.6,1354],xd:[0,1901.6],xr:[713.5,1060],ld:[0,191.3],lr:[1345.7,1083.3],rd:[0,30],rr:[1354,1077.3],
  xt:p6X,lt:p6L,rt:p6R,ltx:687.5,rtx:1085.7,xty:1365.7,tx:894.7,t1:[1047.3,193],t2:[1062.6,317.8],
  ylab:{x:655.4,y:1216.3,w:143.3},yrlab:{x:1133.7,y:1216.3,w:95,s:"Concentration (%)"},xlab:{x:886.9,y:1378.7,w:56.1},
  lg:{f:[699.3,1082.3,962.3,1095.7],items:[{x:704.4,x2:721.3,tx:724.7,w:100.7,c:RED,s:"Adsorption  Capacity"},{x:833.9,x2:850.8,tx:854.1,w:66.6,c:BLUE,s:"Concentration"}]}});
 path(k.g,p6Conc,k.x,k.yr,BLUE,3.6);
 path(k.g,p6Ads,k.x,k.yl,RED,1.6);
 flatThick(k.g,[[117,175.9],[1375,175.9]],k.x,k.yl,RED,3.2);
 flatThick(k.g,[[1490,15],[1898,15]],k.x,k.yl,RED,3);
 marks(k.g,p6Ads,k.x,k.yl,"c",RED,1.9,0.9);
})();
// Panel 7
(function(){
 const k=kin({f:[107.6,1559.7,506.5,1837],xd:[418.6,2511.8],xr:[120.1,476.1],ld:[0,1883.1],lr:[1823,1559.7],rd:[0,152],rr:[1836.3,1568],
  xt:p7X,lt:p7L,rt:p7R,ltx:102.5,rtx:512.6,xty:1848.7,tx:305.4,t1:[1529.6,193.7],t2:[1544.9,318.5],
  ylab:{x:65.4,y:1697,w:145},yrlab:{x:543.7,y:1697,w:95,s:"Concentration (%)"},xlab:{x:307,y:1861.3,w:56.5},
  lg:{f:[109.3,1564.7,373,1577.7],items:[{x:114.4,x2:131.3,tx:134.7,w:100.7,c:RED,s:"Adsorption  Capacity"},{x:243.9,x2:260.8,tx:264.1,w:66.6,c:BLUE,s:"Concentration"}]}});
 path(k.g,p7Conc,k.x,k.yr,"#4a4aff",1.1);
 flatThick(k.g,p7Conc,k.x,k.yr,BLUE,3.4);
 path(k.g,p7Ads,k.x,k.yl,RED,1);
 marks(k.g,p7Ads,k.x,k.yl,"c",RED,1.7,0.8);
})();

// ======================= Panel 8: one hundred cycles =======================
(function(){
 const g=svg.append("g");
 const x=d3.scaleLinear().domain([0,40000]).range([700.3,1077.9]);
 const yl=d3.scaleLinear().domain([0,300]).range([1833.7,1572.7]);
 const yr=d3.scaleLinear().domain([-10,110]).range([1850.3,1550.3]);
 const X0=690.9,Y0=1552,X1=1096.5,Y1=1851.3;
 const cg=clip(g,X0+1,Y0+1,X1-1,Y1-1);
 const red=[],blue=[];
 p8Start.forEach((t0,i)=>{red.push([t0+p8Phase[0],p8Low],[t0+p8Phase[1],p8Peak[i]],[t0+p8Phase[2],p8Peak[i]-1.5],[t0+p8Phase[3],p8Low]);
   blue.push([t0+p8Phase[0],0],[t0+p8Phase[0],p8Conc],[t0+p8Phase[2],p8Conc],[t0+p8Phase[2],0]);});
 path(cg,red,x,yl,"#ff3a3a",0.9,0.42);
 path(cg,blue,x,yr,"#4848ff",0.85,0.38);
 p8Start.forEach(t0=>L(cg,x(t0+p8Phase[0]),yr(p8Conc),x(t0+p8Phase[2]),yr(p8Conc),"#1a1aff",1.7));
 p8Start.forEach(t0=>L(cg,x(t0+p8Phase[2]),yr(0),x(t0+p8Phase[0])+3.9,yr(0),"#4040ff",1.2).attr("stroke-opacity",0.8));
 L(g,X0,Y0,X1,Y0,"#000",1.5);
 L(g,X0-1,Y1,X1+1,Y1,"#000",2);
 L(g,X0,Y0,X0,Y1+1,"#ff0000",2);
 L(g,X1,Y0,X1,Y1+1,"#0000ff",2);
 const lp=tpos(p8L,yl),rp=tpos(p8R,yr),xp=tpos(p8X,x);
 lp.forEach((p,i)=>{L(g,X0,p,X0+5,p,"#ff0000",1.3);if(i<lp.length-1)L(g,X0,(p+lp[i+1])/2,X0+3,(p+lp[i+1])/2,"#ff0000",1.1);});
 L(g,X0,lp[lp.length-1]-(lp[0]-lp[1])/2,X0+3,lp[lp.length-1]-(lp[0]-lp[1])/2,"#ff0000",1.1);
 rp.forEach((p,i)=>{L(g,X1,p,X1-5,p,"#0000ff",1.3);if(i<rp.length-1)L(g,X1,(p+rp[i+1])/2,X1-3,(p+rp[i+1])/2,"#0000ff",1.1);});
 xp.forEach((p,i)=>{L(g,p,Y1,p,Y1-5,"#000",1.3);if(i<xp.length-1)L(g,(p+xp[i+1])/2,Y1,(p+xp[i+1])/2,Y1-3,"#000",1.1);});
 p8L.forEach((s,i)=>T(g,684,lp[i],s,{fs:11.5,fw:"bold",a:"end",fill:"#ff0000"}));
 p8R.forEach((s,i)=>T(g,1103.3,rp[i],s,{fs:11.5,fw:"bold",a:"start",fill:"#0000ff"}));
 p8X.forEach((s,i)=>T(g,xp[i],1863.7,s,{fs:11.5,fw:"bold",fill:"#000"}));
 T(g,904.5,1523.7,"Adsorption Capacity-Time (Adsorption Kinetics) Curve",{fs:13,fw:"bold",w:374.2,fill:"#000"});
 T(g,646.2,1702,"Adsorption Capacity (mg/g)",{fs:16,fw:"bold",rot:-90,w:194.3,fill:"#ff0000"});
 T(g,1133.7,1703.7,"Concentration (%)",{fs:16,fw:"bold",rot:-90,w:126.7,fill:"#0000ff"});
 T(g,893.7,1884.7,"Time(min)",{fs:15,fw:"bold",w:68.3,fill:"#000"});
 L(g,708.4,1566,740.9,1566,"#ff8080",1.6);
 T(g,745.6,1567,"Adsorption Capacity",{fs:12,fw:"bold",a:"start",w:111.6,fill:"#ff0000"});
 g.append("rect").attr("x",867.7).attr("y",1556).attr("width",32.8).attr("height",16.7).attr("fill","#f4f4ff").attr("stroke","#ff7a7a").attr("stroke-width",1.2);
 L(g,869,1563.7,899.2,1563.7,"#7070ff",1.6);
 T(g,904.9,1565,"Concentration",{fs:12,fw:"bold",a:"start",w:77.4,fill:"#0000ff"});
})();
</script>
</body></html>
